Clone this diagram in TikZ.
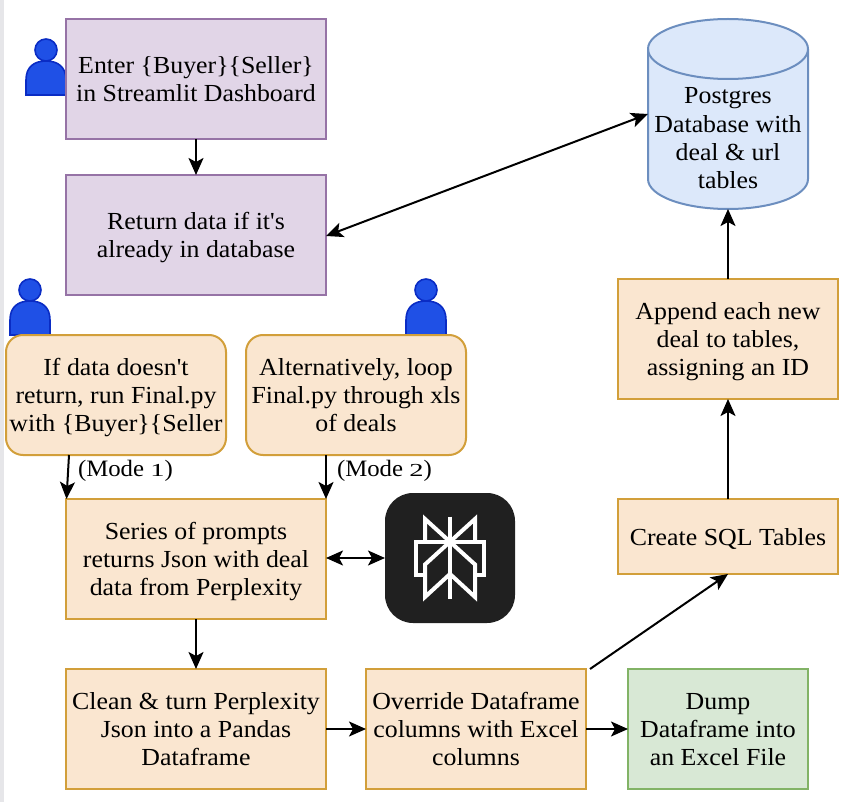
\documentclass[tikz,border=0pt]{standalone}
\usepackage{fontspec}
\setmainfont[FakeStretch=1.055,Ligatures=TeXOff]{Liberation Serif}
\usetikzlibrary{arrows.meta}
\definecolor{pfill}{HTML}{E1D5E7}\definecolor{pline}{HTML}{9673A6}
\definecolor{ofill}{HTML}{FAE6D0}\definecolor{oline}{HTML}{D29F3A}
\definecolor{bfill}{HTML}{DCE8FA}\definecolor{bline}{HTML}{6C8EBF}
\definecolor{gfill}{HTML}{D8E8D5}\definecolor{gline}{HTML}{82B366}
\definecolor{ufill}{HTML}{1F50E6}\definecolor{uline}{HTML}{0A2CC4}
\definecolor{lgbg}{HTML}{202020}\definecolor{strip}{HTML}{E6E6E9}
\newcommand{\fl}{\rule{0pt}{23pt}}
\tikzset{
  x=1pt,y=-1pt,
  txt/.style={font=\fontsize{24.5}{28.4}\selectfont,align=center,text=black,inner sep=0pt,outer sep=0pt},
  boxbase/.style={txt,draw,line width=2pt,minimum width=#1,anchor=north west,
    execute at end node={\rule[-6pt]{0pt}{0pt}}},
  purp/.style={boxbase=260pt,fill=pfill,draw=pline,minimum height=120pt},
  orng/.style={boxbase=#1,fill=ofill,draw=oline,minimum height=120pt},
  rnd/.style={boxbase=220pt,fill=ofill,draw=oline,minimum height=120pt,rounded corners=17pt},
  grn/.style={boxbase=180pt,fill=gfill,draw=gline,minimum height=120pt},
  conn/.style={line width=2pt,-{Stealth[length=17pt,width=15pt,inset=4pt]},black},
  biconn/.style={line width=2pt,{Stealth[length=17pt,width=15pt,inset=4pt]}-{Stealth[length=17pt,width=15pt,inset=4pt]},black},
  person/.style={fill=ufill,draw=uline,line width=1.6pt},
  lbl/.style={txt,font=\fontsize{23.5}{26}\selectfont,anchor=west}
}
\newcommand{\usericon}[2]{%
  \draw[person] (#1,#2-45) circle[radius=11];
  \draw[person] (#1-20,#2) -- (#1-20,#2-15) .. controls (#1-20,#2-28) and (#1-12,#2-34) .. (#1,#2-34)
     .. controls (#1+12,#2-34) and (#1+20,#2-28) .. (#1+20,#2-15) -- (#1+20,#2) -- cycle;
}
\begin{document}
\begin{tikzpicture}
\useasboundingbox (0,0) rectangle (854,802);
\fill[strip] (0,0) rectangle (3.5,802);
% people
\usericon{46}{95}
\usericon{30}{335}
\usericon{426}{335}
% boxes
\node[purp] (enter) at (66,19) {\fl Enter \{Buyer\}\{Seller\}\\in Streamlit Dashboard};
\node[purp] (ret) at (66,175) {\fl Return data if it's\\already in database};
\node[rnd] (ifd) at (6,335) {\fl If data doesn't\\return, run Final.py\\with \{Buyer\}\{Seller};
\node[rnd] (alt) at (246,335) {\fl Alternatively, loop\\Final.py through xls\\of deals};
\node[orng=260pt] (ser) at (66,499) {\fl Series of prompts\\returns Json with deal\\data from Perplexity};
\node[orng=260pt] (cln) at (66,669) {\fl Clean \& turn Perplexity\\Json into a Pandas\\Dataframe};
\node[orng=220pt] (ovr) at (366,669) {\fl Override Dataframe\\columns with Excel\\columns};
\node[grn] (dump) at (628,669) {\fl Dump\\Dataframe into\\an Excel File};
\node[orng=220pt,minimum height=75pt] (sql) at (618,499) {\fl Create SQL Tables};
\node[orng=220pt] (app) at (618,279) {\fl Append each new\\deal to tables,\\assigning an ID};
% cylinder
\draw[fill=bfill,draw=bline,line width=2pt]
  (648,49) .. controls (648,32) and (684,19) .. (728,19) .. controls (772,19) and (808,32) .. (808,49)
  -- (808,179) .. controls (808,196) and (772,209) .. (728,209) .. controls (684,209) and (648,196) .. (648,179) -- cycle;
\draw[draw=bline,line width=2pt]
  (648,49) .. controls (648,66) and (684,79) .. (728,79) .. controls (772,79) and (808,66) .. (808,49);
\node[txt,minimum width=160pt,minimum height=190pt,anchor=north west] (pg) at (648,19) {};
\node[txt,anchor=center] (pgtext) at (728,138.5) {Postgres\\Database with\\deal \& url\\tables};
% logo
\node[fill=lgbg,rounded corners=28pt,minimum width=130pt,minimum height=130pt,inner sep=0pt,outer sep=0pt,anchor=north west] (logo) at (385,493) {};
\begin{scope}[line width=4pt,miter limit=10]
\draw[white] (450,516.7) -- (450,599);
\draw[white] (425,542.3) -- (425,519) -- (475,564.5) -- (475,597) -- (450,574) -- (425,597) -- (425,564.5) -- (475,519) -- (475,542.3);
\draw[white] (416,542.3) -- (484,542.3) -- (484,574.5) -- (475,574.5);
\draw[white] (416,540.4) -- (416,574.5) -- (425,574.5);
\end{scope}
% mode labels
\node[lbl] (m1) at (78,471) {(Mode \scalebox{1.15}[.78]{1})};
\node[lbl] (m2) at (337,471) {(Mode \scalebox{1.15}[.78]{2})};
% connectors
\coordinate (ifdout) at (69,455);
\coordinate (serin) at (66.5,499);
\coordinate (altout) at (326,455);
\coordinate (serinb) at (326,499);
\coordinate (retR) at (326,236);
\coordinate (pgL) at (648,114);
\coordinate (serR) at (326,558);
\coordinate (ovrT) at (590,669);
\coordinate (sqlB) at (728,574);
\draw[conn] (enter.south) -- (ret.north);
\draw[biconn] (retR) -- (pgL);
\draw[conn] (ifdout) -- (serin);
\draw[conn] (altout) -- (serinb);
\draw[biconn] (serR) -- (logo.west);
\draw[conn] (ser.south) -- (cln.north);
\draw[conn] (cln.east) -- (ovr.west);
\draw[conn] (ovr.east) -- (dump.west);
\draw[conn] (ovrT) -- (sqlB);
\draw[conn] (sql.north) -- (app.south);
\draw[conn] (app.north) -- (pg.south);
\end{tikzpicture}
\end{document}
